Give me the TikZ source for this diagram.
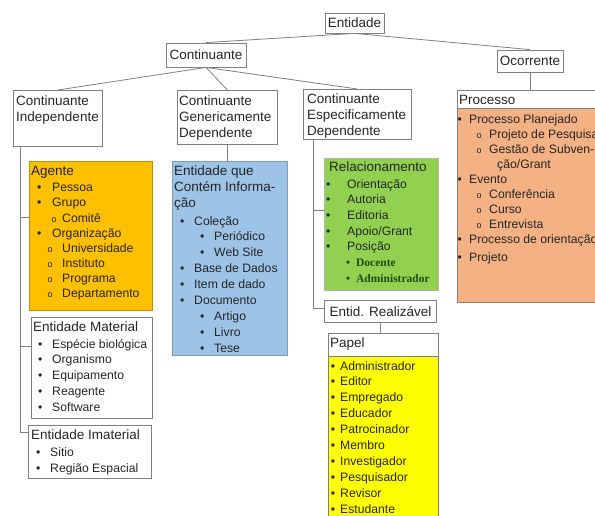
\documentclass[tikz,border=0pt]{standalone}
\usepackage{fontspec}
\setmainfont{Liberation Sans}
\newfontfamily\serifont{Liberation Serif}

\definecolor{linegray}{HTML}{7F7F7F}
\definecolor{boxgray}{HTML}{808080}
\definecolor{txt}{HTML}{262626}
\definecolor{agentefill}{HTML}{FFC000}
\definecolor{agenteline}{HTML}{BF9000}
\definecolor{infofill}{HTML}{9DC3E6}
\definecolor{infoline}{HTML}{7F9DBF}
\definecolor{relfill}{HTML}{92D050}
\definecolor{procfill}{HTML}{F4B183}
\definecolor{papelfill}{HTML}{FFFF00}
\definecolor{docgreen}{HTML}{1E4D12}

\newcommand{\bl}[1]{\makebox[#1][l]{\textbullet}}
\newcommand{\ob}[1]{\makebox[#1][l]{\fontsize{9}{9}\selectfont o}}

\tikzset{
  link/.style={draw=linegray, line width=0.8pt},
  box/.style={draw=boxgray, line width=0.8pt, inner sep=0pt, anchor=north west},
  topbox/.style={draw=boxgray, line width=0.8pt, inner sep=0pt, text=txt, font=\fontsize{13.5}{16}\selectfont},
  boxhead/.style={text=txt, inner sep=0pt, anchor=north west, align=left, font=\fontsize{13.5}{15.8}\selectfont},
  boxlist/.style={text=txt, inner sep=0pt, anchor=north west, align=left, font=\fontsize{12.2}{15.6}\selectfont},
}

\begin{document}
\begin{tikzpicture}[x=1pt,y=-1pt]
\useasboundingbox (0,0) rectangle (595,515);
\clip (0,0) rectangle (595,515);

%top%%%%%%%%%%%%%%%%%%%%%%%%%%%%%%%%%%%%%%%%%%%%%%%%%%%%%%%%%%%%%

\node[topbox, minimum width=59pt, minimum height=20pt] (entidade) at (354.5,23) {Entidade};
\node[topbox, minimum width=80pt, minimum height=24pt] (continuante) at (206,55) {Continuante};
\node[topbox, minimum width=66pt, minimum height=22pt] (ocorrente) at (530,61) {Ocorrente};

\node[box, minimum width=89pt, minimum height=56pt] (contind) at (13,90) {};
\node[boxhead] (contindtxt) at (16,95.5) {Continuante\\Independente};
\node[box, minimum width=100pt, minimum height=54pt] (contgen) at (177,90) {};
\node[boxhead] (contgentxt) at (179,95.5) {Continuante\\Genericamente\\Dependente};
\node[box, minimum width=108pt, minimum height=50pt] (contesp) at (303,89) {};
\node[boxhead, font=\fontsize{13.5}{16}\selectfont] (contesptxt) at (307,93.5) {Continuante\\Especificamente\\Dependente};

%ocorrente%%%%%%%%%%%%%%%%%%%%%%%%%%%%%%%%%%%%%%%%%%%%%%%%%%%%%%%

\node[box, fill=procfill, minimum width=150pt, minimum height=212pt] (processo) at (457,90) {};
\filldraw[fill=white, draw=boxgray, line width=0.8pt] (processo.north west) rectangle ([yshift=-18pt]processo.north east); %header
\node[boxhead] (processotxt) at (459,95) {Processo};
\node[boxlist, font=\fontsize{12.2}{15.1}\selectfont] (processolist) at (457.3,114) {%
\bl{11.7pt}Processo Planejado\\
\hspace*{19pt}\ob{12.7pt}Projeto de Pesquisa\\
\hspace*{19pt}\ob{12.7pt}Gestão de Subven-\\
\hspace*{39.7pt}ção/Grant\\
\bl{11.7pt}Evento\\
\hspace*{19pt}\ob{12.7pt}Conferência\\
\hspace*{19pt}\ob{12.7pt}Curso\\
\hspace*{19pt}\ob{12.7pt}Entrevista\\
\bl{11.7pt}Processo de orientação\\[3pt]
\bl{11.7pt}Projeto};

%independente%%%%%%%%%%%%%%%%%%%%%%%%%%%%%%%%%%%%%%%%%%%%%%%%%%%%

\node[box, fill=agentefill, draw=agenteline, minimum width=123pt, minimum height=149pt] (agente) at (29,161) {};
\node[boxhead] (agentetxt) at (31,166) {Agente};
\node[boxlist, font=\fontsize{12.2}{15.2}\selectfont] (agentelist) at (37,183) {%
\bl{15pt}Pessoa\\
\bl{15pt}Grupo\\
\hspace*{14.3pt}\ob{10.7pt}Comitê\\
\bl{15pt}Organização\\
\hspace*{10.3pt}\ob{14.7pt}Universidade\\
\hspace*{10.3pt}\ob{14.7pt}Instituto\\
\hspace*{10.3pt}\ob{14.7pt}Programa\\
\hspace*{10.3pt}\ob{14.7pt}Departamento};

\node[box, minimum width=121pt, minimum height=101pt] (entmaterial) at (31,317) {};
\node[boxhead] (entmaterialtxt) at (33,322) {Entidade Material};
\node[boxlist, font=\fontsize{12.2}{15.75}\selectfont] (entmateriallist) at (38,339) {%
\bl{14pt}Espécie biológica\\
\bl{14pt}Organismo\\
\bl{14pt}Equipamento\\
\bl{14pt}Reagente\\
\bl{14pt}Software};

\node[box, minimum width=123pt, minimum height=53pt] (entimaterial) at (28,425) {};
\node[boxhead] (entimaterialtxt) at (31,430) {Entidade Imaterial};
\node[boxlist, font=\fontsize{12.2}{16}\selectfont] (entimateriallist) at (36,447) {%
\bl{14pt}Sitio\\
\bl{14pt}Região Espacial};

%generico%%%%%%%%%%%%%%%%%%%%%%%%%%%%%%%%%%%%%%%%%%%%%%%%%%%%%%%%

\node[box, fill=infofill, draw=infoline, minimum width=115pt, minimum height=194pt] (entinfo) at (172,161) {};
\node[boxhead, font=\fontsize{13.5}{16}\selectfont] (entinfotxt) at (174,166) {Entidade que\\Contém Informa-\\ção};
\node[boxlist, font=\fontsize{12.2}{15.9}\selectfont] (entinfolist) at (180,216) {%
\bl{14pt}Coleção\\
\hspace*{20pt}\bl{14pt}Periódico\\
\hspace*{20pt}\bl{14pt}Web Site\\
\bl{14pt}Base de Dados\\
\bl{14pt}Item de dado\\
\bl{14pt}Documento\\
\hspace*{20pt}\bl{14pt}Artigo\\
\hspace*{20pt}\bl{14pt}Livro\\
\hspace*{20pt}\bl{14pt}Tese};

%especifico%%%%%%%%%%%%%%%%%%%%%%%%%%%%%%%%%%%%%%%%%%%%%%%%%%%%%%

\node[box, fill=relfill, draw=boxgray!60, minimum width=114pt, minimum height=132pt] (relacionamento) at (324,158) {};
\node[boxhead] (relacionamentotxt) at (329,162) {Relacionamento};
\node[boxlist, font=\fontsize{12.2}{15.7}\selectfont] (relacionamentolist) at (326,179) {%
\bl{21pt}Orientação\\
\bl{21pt}Autoria\\
\bl{21pt}Editoria\\
\bl{21pt}Apoio/Grant\\
\bl{21pt}Posição\\
\hspace*{20pt}{\serifont\bfseries\fontsize{11.5}{13}\selectfont\color{docgreen}\bl{10pt}Docente}\\
\hspace*{20pt}{\serifont\bfseries\fontsize{11.5}{13}\selectfont\color{docgreen}\bl{10pt}Administrador}};

\node[topbox, anchor=north west, minimum width=112pt, minimum height=22pt] (realizavel) at (324,300) {Entid. Realizável};

\node[box, fill=papelfill, minimum width=110pt, minimum height=200pt] (papel) at (328,333) {};
\filldraw[fill=white, draw=boxgray, line width=0.8pt] (papel.north west) rectangle ([yshift=-23pt]papel.north east); %header
\node[boxhead] (papeltxt) at (330,338) {Papel};
\node[boxlist, font=\fontsize{12.2}{15.9}\selectfont] (papellist) at (330.6,361) {%
\bl{9.4pt}Administrador\\
\bl{9.4pt}Editor\\
\bl{9.4pt}Empregado\\
\bl{9.4pt}Educador\\
\bl{9.4pt}Patrocinador\\
\bl{9.4pt}Membro\\
\bl{9.4pt}Investigador\\
\bl{9.4pt}Pesquisador\\
\bl{9.4pt}Revisor\\
\bl{9.4pt}Estudante};

%links%%%%%%%%%%%%%%%%%%%%%%%%%%%%%%%%%%%%%%%%%%%%%%%%%%%%%%%%%%%

\draw[link] (entidade.south) -- (continuante.north);
\draw[link] (entidade.south) -- (ocorrente.north);
\draw[link] (continuante.south) -- (contind.north);
\draw[link] (continuante.south) -- (contgen.north);
\draw[link] (continuante.south) -- (contesp.north);
\draw[link] (ocorrente.south) -- (ocorrente.south |- processo.north);
\draw[link] (contgen.south) -- (contgen.south |- entinfo.north);
\draw[link] (realizavel.south) -- (realizavel.south |- papel.north);

\draw[link] ([xshift=7pt]contind.south west) |- ([yshift=-7pt]entimaterial.north west); %spine left
\draw[link] ([yshift=-56pt]agente.north west) -- ++(-9,0); %agente
\draw[link] ([yshift=-29pt]entmaterial.north west) -- ++(-11,0); %material

\draw[link] ([xshift=10pt]contesp.south west) |- ([yshift=-8pt]realizavel.north west); %spine right
\draw[link] ([yshift=-52pt]relacionamento.north west) -- ++(-11,0); %relacionamento

\end{tikzpicture}
\end{document}
